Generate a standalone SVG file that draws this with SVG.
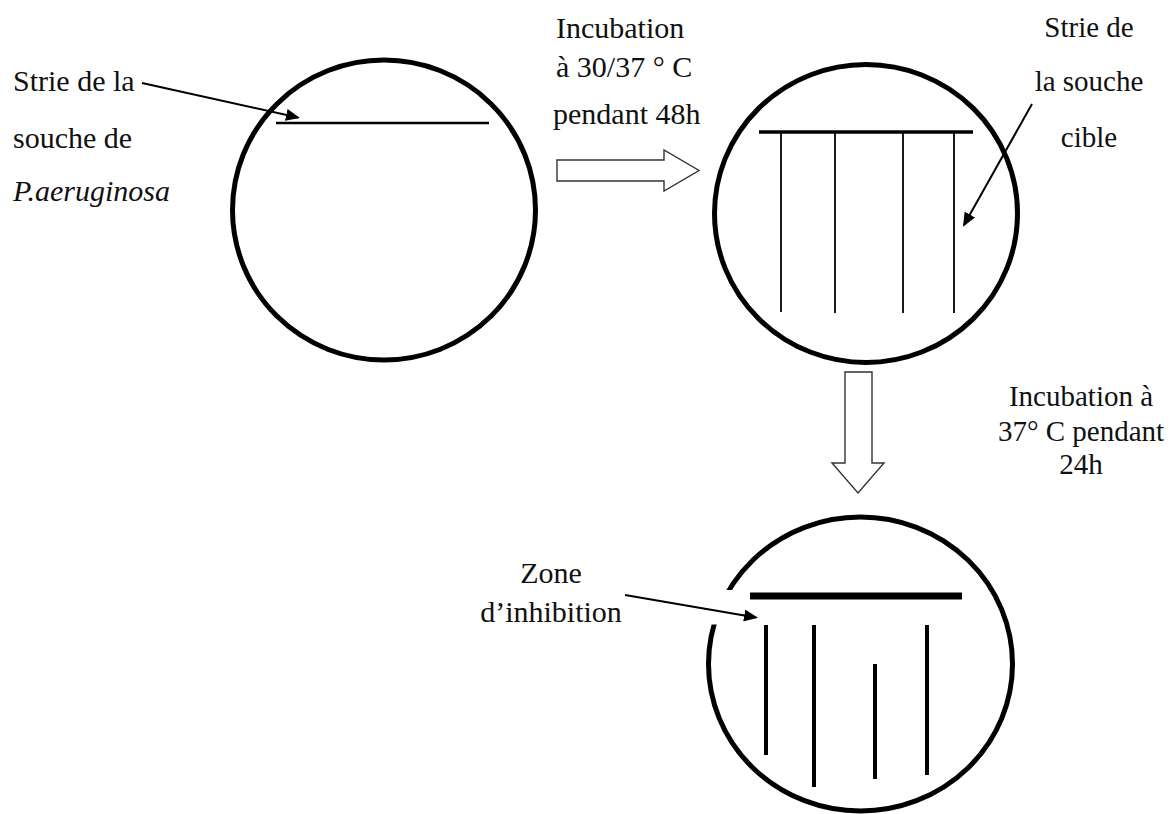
<svg xmlns="http://www.w3.org/2000/svg" width="1175" height="814" viewBox="0 0 1175 814">
  <style>
    .plate { fill: none; stroke: #000; stroke-width: 5; }
    .streak { stroke: #000; stroke-linecap: butt; }
    .lbl { font-family: "Liberation Serif", "Times New Roman", serif; font-size: 30px; fill: #111; }
    .lbl2 { font-family: "Liberation Serif", "Times New Roman", serif; font-size: 29px; fill: #111; }
    .ptr { stroke: #000; stroke-width: 2; fill: none; }
    .big { fill: #fff; stroke: #333; stroke-width: 1.4; }
  </style>
  <defs>
    <marker id="ah" viewBox="0 0 14 12" refX="12" refY="6" markerWidth="14" markerHeight="12" markerUnits="userSpaceOnUse" orient="auto">
      <path d="M0,0 L14,6 L0,12 z" fill="#000"/>
    </marker>
  </defs>
  <rect width="1175" height="814" fill="#fff"/>

  <g id="plate1">
    <ellipse class="plate" cx="384" cy="210" rx="151.5" ry="150"/>
    <line class="streak" x1="276" y1="123" x2="489" y2="123" stroke-width="2.5"/>
  </g>

  <g id="plate2">
    <ellipse class="plate" cx="866" cy="213.5" rx="151.5" ry="149"/>
    <line class="streak" x1="759" y1="132" x2="973" y2="132" stroke-width="3.5"/>
    <line class="streak" x1="781" y1="133" x2="781" y2="312" stroke-width="1.8"/>
    <line class="streak" x1="835" y1="133" x2="835" y2="313" stroke-width="1.8"/>
    <line class="streak" x1="903" y1="133" x2="903" y2="313" stroke-width="1.8"/>
    <line class="streak" x1="954" y1="133" x2="954" y2="313" stroke-width="1.8"/>
  </g>

  <g id="plate3">
    <ellipse class="plate" cx="860.5" cy="664" rx="152" ry="147"/>
    <rect x="700" y="590" width="42" height="34.5" fill="#fff"/>
    <line class="streak" x1="750" y1="596" x2="962" y2="596" stroke-width="7"/>
    <line class="streak" x1="766" y1="625" x2="766" y2="755" stroke-width="4"/>
    <line class="streak" x1="814" y1="625" x2="814" y2="787" stroke-width="4"/>
    <line class="streak" x1="875" y1="664" x2="875" y2="779" stroke-width="4"/>
    <line class="streak" x1="927" y1="625" x2="927" y2="775" stroke-width="4"/>
  </g>

  <g id="label-strie-pa">
    <text class="lbl" x="13" y="91">Strie de la</text>
    <text class="lbl" x="13" y="148">souche de</text>
    <text class="lbl" x="13" y="201" font-style="italic">P.aeruginosa</text>
  </g>

  <g id="label-incubation1">
    <text class="lbl" x="556" y="38">Incubation</text>
    <text class="lbl" x="556" y="77">à 30/37 ° C</text>
    <text class="lbl" x="553" y="124">pendant 48h</text>
  </g>

  <g id="label-strie-cible" text-anchor="middle">
    <text class="lbl2" x="1089" y="37">Strie de</text>
    <text class="lbl2" x="1089" y="91">la souche</text>
    <text class="lbl2" x="1089" y="147">cible</text>
  </g>

  <g id="label-incubation2" text-anchor="middle">
    <text class="lbl2" x="1081" y="406">Incubation à</text>
    <text class="lbl2" x="1081" y="441">37° C pendant</text>
    <text class="lbl2" x="1081" y="474">24h</text>
  </g>

  <g id="label-zone" text-anchor="middle">
    <text class="lbl" x="551" y="583">Zone</text>
    <text class="lbl" x="551" y="622">d’inhibition</text>
  </g>

  <g id="connectors">
    <line class="ptr" x1="142" y1="83" x2="298" y2="117.5" marker-end="url(#ah)"/>
    <line class="ptr" x1="1032" y1="104" x2="964" y2="225" marker-end="url(#ah)"/>
    <line class="ptr" x1="625" y1="595" x2="756" y2="617.5" marker-end="url(#ah)"/>
    <path class="big" d="M557,160 L664,160 L664,150 L699,170.5 L664,191 L664,181 L557,181 Z"/>
    <path class="big" d="M845,372 L872,372 L872,463 L884,463 L858,493 L832,463 L845,463 Z"/>
  </g>
</svg>
